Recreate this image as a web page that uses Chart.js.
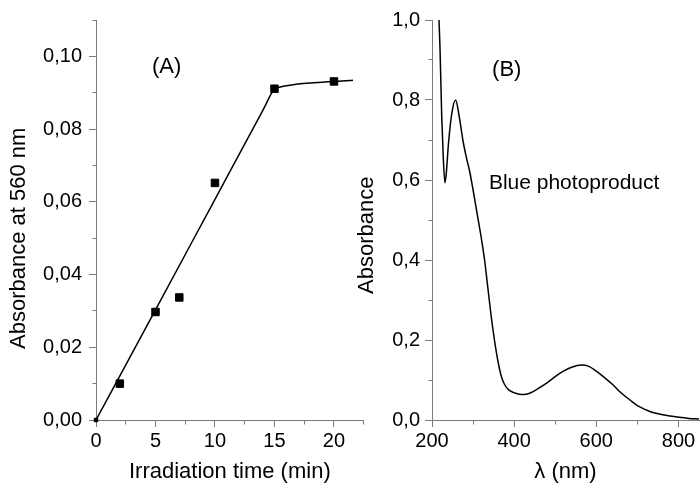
<!DOCTYPE html>
<html>
<head>
<meta charset="utf-8">
<script src="https://cdn.jsdelivr.net/npm/chart.js@4.4.1/dist/chart.umd.min.js"></script>
<style>
  body { margin: 0; background: #fff; }
  .wrap { position: absolute; top: 0; height: 485px; }
  #wrapA { left: 0; width: 370px; }
  #wrapB { left: 350px; width: 350px; }
</style>
</head>
<body>
<div class="wrap" id="wrapA"><canvas id="chartA" width="370" height="485"></canvas></div>
<div class="wrap" id="wrapB"><canvas id="chartB" width="350" height="485"></canvas></div>
<script>
// (A) absorbance at 560 nm vs irradiation time
var timeMin = [0, 2, 5, 7, 10, 15, 20];
var abs560 = [0, 0.0100, 0.0297, 0.0337, 0.0652, 0.0911, 0.0931];
// drawn fit curve
var fitTime = [0, 5, 10, 14, 15, 15.5, 16, 17, 18, 19, 20, 21, 21.6];
var fitAbs = [0, 0.0303, 0.0607, 0.0850, 0.0910, 0.0916, 0.0919, 0.0924, 0.0927, 0.0929, 0.0931, 0.0933, 0.0934];

// (B) spectrum of the blue photoproduct
var wavelength = [217, 219.5, 223.5, 227.5, 231.5, 235, 240, 248, 257.5, 266, 276, 284, 292, 300, 310, 320, 328, 336, 344, 352, 360, 368, 376, 386, 398, 410, 422, 438, 462, 480, 499, 520, 540, 564, 582, 600, 620, 641, 660, 682, 700, 722, 740, 762, 780, 803, 825, 850];
var absorbance = [1.00, 0.93, 0.765, 0.655, 0.593, 0.62, 0.69, 0.765, 0.80, 0.76, 0.695, 0.655, 0.62, 0.575, 0.515, 0.455, 0.40, 0.33, 0.26, 0.20, 0.15, 0.112, 0.09, 0.076, 0.069, 0.065, 0.0635, 0.067, 0.081, 0.093, 0.108, 0.122, 0.132, 0.1375, 0.134, 0.122, 0.106, 0.0875, 0.068, 0.050, 0.036, 0.025, 0.018, 0.013, 0.010, 0.0068, 0.004, 0.0025];

var notesA = [{ text: '(A)', x: 5.94, y: 0.0971, size: 22 }];
var notesB = [
  { text: '(B)', x: 382, y: 0.875, size: 22 },
  { text: 'Blue photoproduct', x: 546, y: 0.5925, size: 21 }
];

var FONT = "'Liberation Sans', Arial, sans-serif";
var axisGrey = '#7a7a7a';
Chart.defaults.font.family = FONT;
Chart.defaults.color = '#000';

const toXY = (xs, ys) => xs.map((x, i) => ({ x: x, y: ys[i] }));
const comma = (v, d) => v.toFixed(d).replace('.', ',');

// minor ticks: only the part next to the axis is drawn
const minorLeft = [0, 3.5, 3.5, 50];
const minorBottom = [3.5, 50];

function notesPlugin(items) {
  return {
    id: 'notes',
    afterDatasetsDraw: function(chart) {
      var ctx = chart.ctx;
      ctx.save();
      ctx.fillStyle = '#000';
      ctx.textAlign = 'center';
      ctx.textBaseline = 'middle';
      items.forEach(function(n) {
        ctx.font = n.size + 'px ' + FONT;
        ctx.fillText(n.text, chart.scales.x.getPixelForValue(n.x), chart.scales.y.getPixelForValue(n.y));
      });
      ctx.restore();
    }
  };
}

// ---- chart A
var isMajorA_y = v => Math.round(v * 100) % 2 === 0 && v < 0.105;
var isMajorA_x = v => Math.round(v * 10) % 50 === 0;

new Chart(document.getElementById('chartA').getContext('2d'), {
  type: 'scatter',
  data: {
    datasets: [
      {
        label: 'fit',
        data: toXY(fitTime, fitAbs),
        showLine: true,
        borderColor: '#000',
        borderWidth: 1.5,
        pointRadius: 0,
        cubicInterpolationMode: 'monotone'
      },
      {
        label: 'measured',
        data: toXY(timeMin, abs560),
        clip: false,
        pointStyle: 'rect',
        pointRadius: ctx => ctx.dataIndex === 0 ? 2.5 : 5.3,
        borderWidth: 1,
        borderColor: '#000',
        backgroundColor: '#000'
      }
    ]
  },
  options: {
    responsive: false,
    animation: false,
    layout: { padding: { left: 0, right: 6.25, top: 20, bottom: 0 } },
    plugins: { legend: { display: false }, tooltip: { enabled: false } },
    scales: {
      x: {
        type: 'linear', min: 0, max: 22.5,
        afterFit: s => { s.height = 65; },
        ticks: {
          stepSize: 2.5, autoSkip: false, maxRotation: 0, padding: 2, includeBounds: false,
          font: { size: 20 },
          callback: v => isMajorA_x(v) ? String(v) : ''
        },
        grid: {
          drawOnChartArea: false, tickLength: 7, color: axisGrey,
          tickBorderDash: c => isMajorA_x(c.tick.value) ? [] : minorBottom
        },
        border: { color: axisGrey },
        title: { display: true, text: 'Irradiation time (min)', font: { size: 22 }, padding: { top: 0, bottom: 0 } }
      },
      y: {
        min: 0, max: 0.11,
        afterFit: s => { s.width = 96; },
        ticks: {
          stepSize: 0.01, autoSkip: false, padding: 7,
          font: { size: 20 },
          callback: v => isMajorA_y(v) ? comma(v, 2) : ''
        },
        grid: {
          drawOnChartArea: false, tickLength: 7, color: axisGrey,
          tickBorderDash: c => isMajorA_y(c.tick.value) ? [] : minorLeft
        },
        border: { color: axisGrey },
        title: { display: true, text: 'Absorbance at 560 nm      ', font: { size: 22 }, padding: { top: 6, bottom: 0 } }
      }
    }
  },
  plugins: [notesPlugin(notesA)]
});

// ---- chart B
var isMajorB_y = v => Math.round(v * 10) % 2 === 0;
var isMajorB_x = v => v % 200 === 0;

new Chart(document.getElementById('chartB').getContext('2d'), {
  type: 'scatter',
  data: {
    datasets: [{
      label: 'Blue photoproduct',
      data: toXY(wavelength, absorbance),
      showLine: true,
      borderColor: '#000',
      borderWidth: 1.5,
      pointRadius: 0,
      cubicInterpolationMode: 'monotone'
    }]
  },
  options: {
    responsive: false,
    animation: false,
    layout: { padding: { left: 0, right: 1, top: 20, bottom: 0 } },
    plugins: { legend: { display: false }, tooltip: { enabled: false } },
    scales: {
      x: {
        type: 'linear', min: 200, max: 850,
        afterFit: s => { s.height = 65; },
        ticks: {
          stepSize: 100, autoSkip: false, maxRotation: 0, padding: 2, includeBounds: false,
          font: { size: 20 },
          callback: v => isMajorB_x(v) ? String(v) : ''
        },
        grid: {
          drawOnChartArea: false, tickLength: 7, color: axisGrey,
          tickBorderDash: c => isMajorB_x(c.tick.value) ? [] : minorBottom
        },
        border: { color: axisGrey },
        title: { display: true, text: 'λ (nm)', font: { size: 22 }, padding: { top: 0, bottom: 0 } }
      },
      y: {
        min: 0, max: 1,
        afterFit: s => { s.width = 82; },
        ticks: {
          stepSize: 0.1, autoSkip: false, padding: 5,
          font: { size: 20 },
          callback: v => isMajorB_y(v) ? comma(v, 1) : ''
        },
        grid: {
          drawOnChartArea: false, tickLength: 7, color: axisGrey,
          tickBorderDash: c => isMajorB_y(c.tick.value) ? [] : minorLeft
        },
        border: { color: axisGrey },
        title: { display: true, text: 'Absorbance     ', font: { size: 22 }, padding: { top: 3.5, bottom: 0 } }
      }
    }
  },
  plugins: [notesPlugin(notesB)]
});
</script>
</body>
</html>
